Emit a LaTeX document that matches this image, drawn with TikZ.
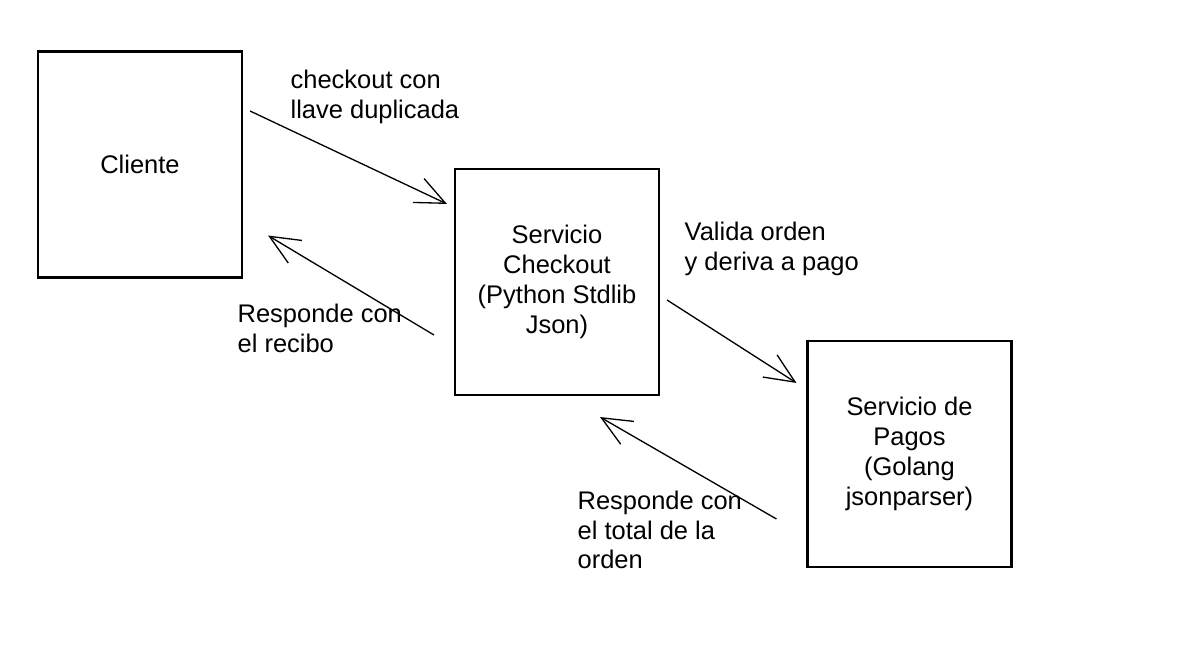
\documentclass[tikz,border=0pt]{standalone}
\usepackage{fontspec}
\setmainfont{Liberation Sans}
\usetikzlibrary{arrows.meta,positioning}

\begin{document}
\begin{tikzpicture}[x=0.02cm, y=-0.02cm, >={Straight Barb[length=17pt,width=15pt]}, line width=0.75pt,
    caja/.style={draw, line width=1.2pt, minimum width=4.08cm, minimum height=4.52cm, align=center, inner sep=0pt},
    etiqueta/.style={anchor=west, align=left, inner sep=0pt},
    font=\fontsize{14.5}{17}\selectfont]
    \useasboundingbox (0,0) rectangle (1200,662);

    \node[caja]     (cliente)  at (140,164.5) {Cliente};
    \node[caja]     (checkout) at (557,282)   {Servicio\\Checkout\\(Python Stdlib\\Json)};
    \node[caja]     (pagos)    at (909.5,454) {Servicio de\\Pagos\\(Golang\\jsonparser)};

    \node[etiqueta] (llave)  at (290,97)  {checkout con\\llave duplicada};
    \node[etiqueta] (recibo) at (237,328) {Responde con\\el recibo};
    \node[etiqueta] (valida) at (684,249) {Valida orden\\y deriva a pago};
    \node[etiqueta] (total)  at (577,530) {Responde con\\el total de la\\orden};

    \path[->]
    ([shift={(7,-53.5)}]cliente.east)   edge ([shift={(-7,36)}]checkout.north west)
    ([shift={(-20,53)}]checkout.west)   edge ([shift={(25,-43)}]cliente.south east)
    ([shift={(7,18)}]checkout.east)     edge ([shift={(-10,43)}]pagos.north west)
    ([shift={(-30,65)}]pagos.west)      edge ([shift={(43,21)}]checkout.south);
\end{tikzpicture}
\end{document}
